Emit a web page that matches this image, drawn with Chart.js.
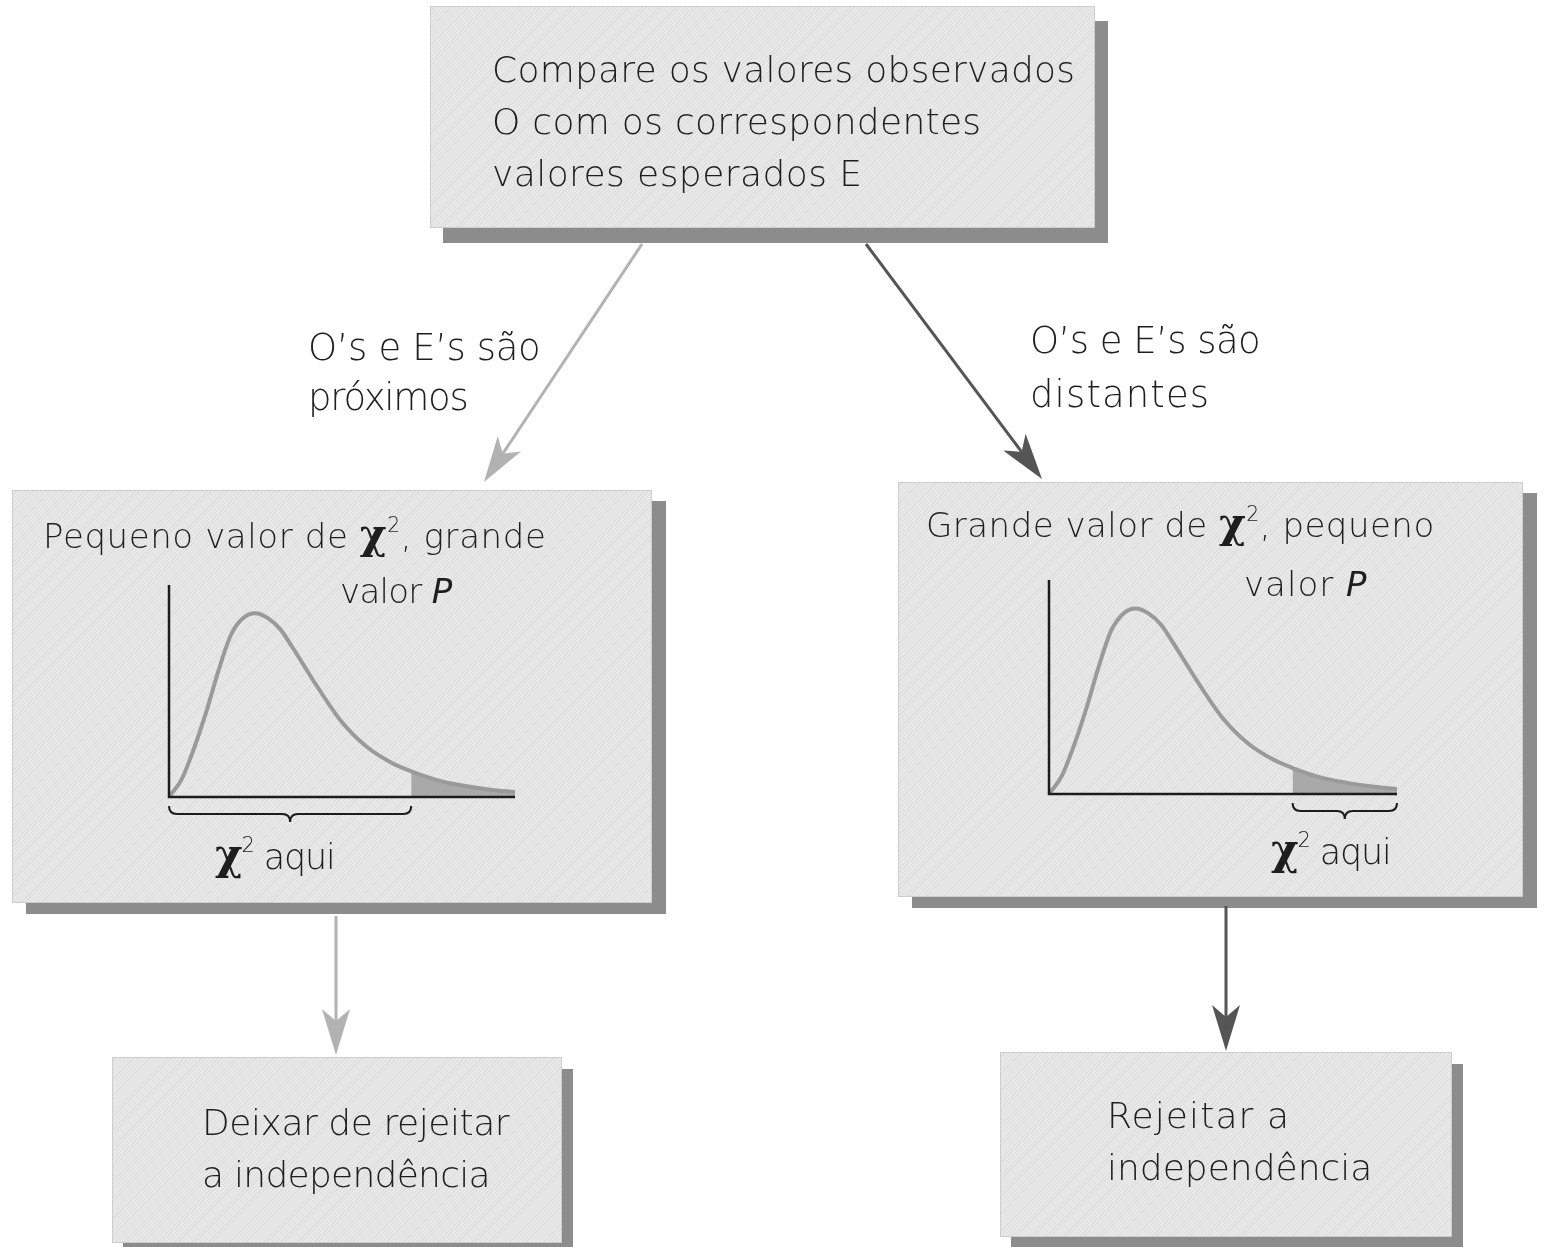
<!DOCTYPE html>
<html lang="pt">
<head>
<meta charset="utf-8">
<title>Teste qui-quadrado de independência</title>
<script src="https://cdn.jsdelivr.net/npm/chart.js@4/dist/chart.umd.min.js"></script>
<style>
  html, body { margin: 0; padding: 0; background: #fff; }
  #pagina {
    position: relative; width: 1547px; height: 1247px; overflow: hidden;
    font-family: "DejaVu Sans", sans-serif; font-weight: 200; color: #1e1e1e;
  }
  .caixa {
    position: absolute; box-sizing: border-box;
    border: 1px solid #cdcdcd;
    background: repeating-linear-gradient(135deg, #e8e8e8 0px, #e8e8e8 2px, #dedede 2px, #dedede 3px);
  }
  .linha { position: absolute; white-space: nowrap; line-height: 1; }
  .chi { font-family: "DejaVu Serif", serif; font-weight: 700; font-size: 1.2em; line-height: 0; }
  sup { font-size: 0.6em; line-height: 0; vertical-align: 0.8em; }
  canvas { position: absolute; }
  svg { position: absolute; left: 0; top: 0; }
</style>
</head>
<body>
<div id="pagina">
  <div class="caixa" style="left:430px; top:6px; width:665px; height:222px; box-shadow:13px 15px 0 #8c8c8c;"></div>
  <div class="caixa" style="left:12px; top:490px; width:640px; height:413px; box-shadow:14px 11px 0 #8c8c8c;"></div>
  <div class="caixa" style="left:898px; top:482px; width:625px; height:415px; box-shadow:14px 11px 0 #8c8c8c;"></div>
  <div class="caixa" style="left:112px; top:1057px; width:450px; height:186px; box-shadow:11px 12px 0 #8c8c8c;"></div>
  <div class="caixa" style="left:1000px; top:1052px; width:452px; height:185px; box-shadow:11px 12px 0 #8c8c8c;"></div>

  <canvas id="curvaPequeno" width="366" height="262" style="left:159px; top:575px;"></canvas>
  <canvas id="curvaGrande" width="368" height="264" style="left:1039px; top:570px;"></canvas>

  <svg id="setas" width="1547" height="1247"></svg>
</div>

<script>
// valores (altura da curva qui-quadrado em cada ponto)
const chiX = [0, 0.5, 1, 1.5, 2, 2.5, 3, 3.5, 4, 4.5, 5, 5.5, 6, 7, 8, 9, 9.8, 11, 12, 13, 14];
const densidade = [0, 0.014, 0.039, 0.069, 0.103, 0.132, 0.146, 0.150, 0.146, 0.137, 0.122, 0.106, 0.090, 0.061, 0.041, 0.028, 0.021, 0.013, 0.009, 0.006, 0.004];
const valorCritico = 9.8;
const eixoXMax = 14;
const eixoYMax = 0.173;

const CHI2 = '<span class="chi">χ</span><sup>2</sup>';

// texto, x, linha de base, tamanho, largura alvo
const textos = [
  ['Compare os valores observados', 492, 82, 36, 583],
  ['O com os correspondentes', 492, 134, 36, 489],
  ['valores esperados E', 492, 186, 36, 370],
  ['O’s e E’s são', 308, 360, 37, 232],
  ['próximos', 308, 410, 37, 160],
  ['O’s e E’s são', 1030, 353, 37, 230],
  ['distantes', 1030, 407, 37, 180],
  ['Pequeno valor de ' + CHI2 + ', grande', 43, 548, 34, 503],
  ['valor <i>P</i>', 340, 603, 34, 112],
  [CHI2 + ' aqui', 215, 870, 35, 120],
  ['Grande valor de ' + CHI2 + ', pequeno', 926, 537, 34, 509],
  ['valor <i>P</i>', 1244, 596, 34, 124],
  [CHI2 + ' aqui', 1271, 865, 35, 120],
  ['Deixar de rejeitar', 202, 1135, 36, 307],
  ['a independência', 202, 1187, 36, 288],
  ['Rejeitar a', 1107, 1128, 36, 183],
  ['independência', 1107, 1180, 36, 265]
];

const pagina = document.getElementById('pagina');
textos.forEach(([t, x, base, tam, alvo]) => {
  const el = document.createElement('div');
  el.className = 'linha';
  el.innerHTML = t;
  el.style.left = x + 'px';
  el.style.top = (base - 0.846 * tam) + 'px';
  el.style.fontSize = tam + 'px';
  pagina.appendChild(el);
  const n = el.textContent.length;
  const ajuste = (alvo - el.offsetWidth) / n;
  el.style.letterSpacing = Math.max(-1.5, Math.min(4, ajuste)) + 'px';
});

// setas
const svg = document.getElementById('setas');
function seta(x1, y1, x2, y2, cor) {
  const dx = x2 - x1, dy = y2 - y1, L = Math.hypot(dx, dy);
  const ux = dx / L, uy = dy / L;
  const comp = 46, larg = 14, entalhe = 12;
  const bx = x2 - ux * comp, by = y2 - uy * comp;
  const nx = x2 - ux * (comp - entalhe), ny = y2 - uy * (comp - entalhe);
  const ns = 'http://www.w3.org/2000/svg';
  const linha = document.createElementNS(ns, 'line');
  linha.setAttribute('x1', x1); linha.setAttribute('y1', y1);
  linha.setAttribute('x2', nx); linha.setAttribute('y2', ny);
  linha.setAttribute('stroke', cor); linha.setAttribute('stroke-width', 3);
  svg.appendChild(linha);
  const ponta = document.createElementNS(ns, 'polygon');
  ponta.setAttribute('points', [
    x2 + ',' + y2,
    (bx - uy * larg) + ',' + (by + ux * larg),
    nx + ',' + ny,
    (bx + uy * larg) + ',' + (by - ux * larg)
  ].join(' '));
  ponta.setAttribute('fill', cor);
  svg.appendChild(ponta);
}
seta(642, 244, 484, 482, '#b2b2b2');
seta(866, 244, 1042, 479, '#555555');
seta(336, 916, 336, 1055, '#b2b2b2');
seta(1226, 906, 1226, 1051, '#555555');

// eixos e chave desenhados a partir das escalas
const eixosEChave = {
  id: 'chave',
  afterDatasetsDraw(chart, args, opts) {
    const { ctx, scales: { x, y } } = chart;
    const x0 = x.getPixelForValue(0);
    const y0 = y.getPixelForValue(0);
    ctx.save();
    ctx.strokeStyle = '#1c1c1c';
    ctx.lineWidth = 2.5;
    ctx.beginPath();
    ctx.moveTo(x0, y.getPixelForValue(eixoYMax));
    ctx.lineTo(x0, y0);
    ctx.lineTo(x.getPixelForValue(eixoXMax), y0);
    ctx.stroke();

    const a = x.getPixelForValue(opts.de), b = x.getPixelForValue(opts.ate);
    const m = (a + b) / 2, t = y0 + 9, h = 8;
    ctx.lineWidth = 2;
    ctx.beginPath();
    ctx.moveTo(a, t);
    ctx.quadraticCurveTo(a, t + h, a + h, t + h);
    ctx.lineTo(m - h, t + h);
    ctx.quadraticCurveTo(m, t + h, m, t + 2 * h);
    ctx.quadraticCurveTo(m, t + h, m + h, t + h);
    ctx.lineTo(b - h, t + h);
    ctx.quadraticCurveTo(b, t + h, b, t);
    ctx.stroke();
    ctx.restore();
  }
};

function criarCurva(id, de, ate) {
  const pontos = chiX.map((x, i) => ({ x: x, y: densidade[i] }));
  const cauda = pontos.filter(p => p.x >= valorCritico);
  return new Chart(document.getElementById(id), {
    type: 'line',
    data: {
      datasets: [{
        data: pontos,
        borderColor: '#9a9a9a',
        borderWidth: 4,
        pointRadius: 0,
        cubicInterpolationMode: 'monotone',
        fill: false
      }, {
        data: cauda,
        borderWidth: 0,
        borderColor: 'rgba(0,0,0,0)',
        backgroundColor: '#a9a9a9',
        pointRadius: 0,
        cubicInterpolationMode: 'monotone',
        fill: 'origin'
      }]
    },
    options: {
      responsive: false,
      animation: false,
      devicePixelRatio: 1,
      layout: { padding: { left: 10, right: 10, top: 10, bottom: 40 } },
      scales: {
        x: { type: 'linear', min: 0, max: eixoXMax, display: false },
        y: { min: 0, max: eixoYMax, display: false }
      },
      plugins: {
        legend: { display: false },
        tooltip: { enabled: false },
        chave: { de: de, ate: ate }
      }
    },
    plugins: [eixosEChave]
  });
}

const curvaPequeno = criarCurva('curvaPequeno', 0, valorCritico);
const curvaGrande = criarCurva('curvaGrande', valorCritico, eixoXMax);
</script>
</body>
</html>
